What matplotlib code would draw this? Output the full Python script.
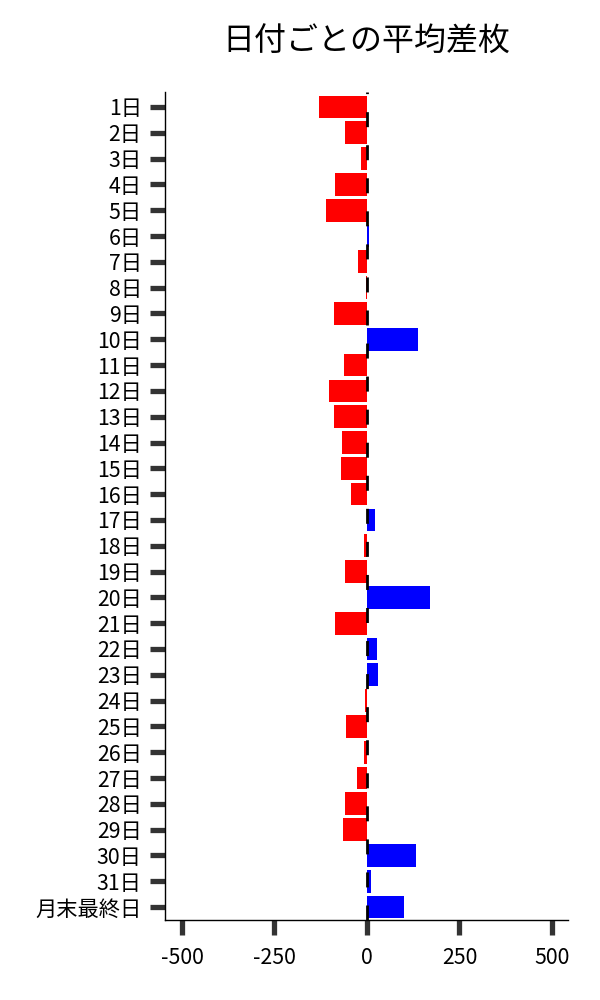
import matplotlib
matplotlib.use("Agg")
import matplotlib.pyplot as plt

plt.rcParams['font.family'] = ['Noto Sans CJK JP', 'DejaVu Sans']

# 日付ラベルと平均差枚
days = [f"{d}日" for d in range(1, 32)] + ["月末最終日"]
avg_diff = [-130, -60, -16, -87, -111, 5, -24, -2, -89, 138,
            -62, -103, -89, -68, -70, -43, 22, -8, -60, 170,
            -87, 27, 30, -5, -57, -8, -27, -60, -65, 133,
            11, 100]
x_ticks = [-500, -250, 0, 250, 500]

colors = ["blue" if v > 0 else "red" for v in avg_diff]

fig = plt.figure(figsize=(6, 10), dpi=100)
ax = fig.add_axes([0.275, 0.08, 0.672, 0.828])

ypos = list(range(len(days)))
ax.barh(ypos, avg_diff, height=0.88, color=colors, zorder=2)
ax.axvline(0, color="black", linewidth=2, dashes=(5.4, 6.5), zorder=3)

ax.set_yticks(ypos)
ax.set_yticklabels(days, fontsize=15.3)
ax.set_ylim(len(days) - 0.5, -0.58)
ax.set_xlim(-546, 544)
ax.set_xticks(x_ticks)
ax.set_xticklabels([str(t) for t in x_ticks], fontsize=15.3)

for side in ["top", "right"]:
    ax.spines[side].set_visible(False)
ax.spines["left"].set_linewidth(1)
ax.spines["bottom"].set_linewidth(1)
ax.tick_params(axis="both", length=10.8, width=3.8, color="#333333")
ax.tick_params(axis="y", pad=6)
ax.tick_params(axis="x", pad=8.5)

fig.text(0.61, 0.958, "日付ごとの平均差枚", ha="center", va="center", fontsize=23)

fig.savefig("out.png", dpi=100)
